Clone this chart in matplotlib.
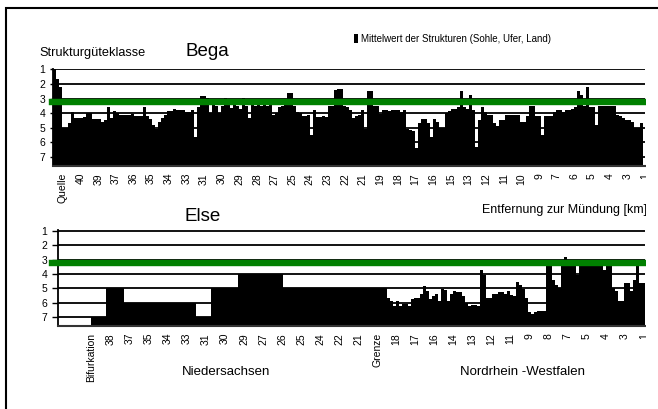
import numpy as np
import matplotlib.pyplot as plt
from matplotlib.patches import Rectangle

plt.rcParams['font.family'] = ['Liberation Sans', 'DejaVu Sans']

# Bega: Mittelwert der Strukturgueteklasse je Abschnitt, von der Quelle zur Muendung
bega_werte = [
    1.0, 1.67, 2.2, 5.0, 5.0, 4.7, 3.9, 4.3, 4.3, 4.3,
    4.25, 4.0, 4.0, 4.4, 4.4, 4.4, 4.6, 4.5, 3.55, 4.3,
    3.85, 4.0, 4.1, 4.1, 4.1, 4.1, 4.05, 4.2, 4.2, 4.2,
    3.55, 4.2, 4.4, 4.8, 5.1, 4.6, 4.3, 4.1, 3.85, 3.85,
    3.7, 3.75, 3.8, 3.75, 3.9, 3.9, 3.75, 5.6, 3.6, 2.8,
    2.8, 2.95, 4.0, 3.4, 3.5, 4.0, 3.5, 2.95, 3.4, 3.65,
    3.4, 3.5, 3.7, 2.95, 3.5, 4.35, 3.4, 3.5, 3.4, 3.5,
    3.4, 3.5, 3.4, 4.1, 4.0, 3.6, 3.5, 3.4, 2.65, 2.65,
    3.5, 3.9, 4.0, 4.2, 4.2, 4.1, 5.5, 3.75, 4.25, 4.25,
    4.2, 4.25,
    3.5, 3.5, 2.4, 2.35, 2.35, 3.5, 3.6, 3.8, 4.3, 4.2,
    4.1, 3.75, 5.1, 2.5, 2.5, 3.5, 3.5, 4.05, 3.8, 3.75,
    3.85, 3.75, 3.8, 3.75, 3.9, 3.75, 5.1, 5.15, 5.2, 6.4,
    4.7, 4.4, 4.4, 4.7, 5.6, 4.4, 4.6, 5.0, 5.0, 4.0,
    3.85, 3.7, 3.7, 3.55, 2.5, 3.6, 3.7, 2.75, 3.8, 6.3,
    4.5, 3.55, 3.9, 4.1, 4.1, 4.7, 4.9,
    4.5, 4.45, 4.15, 4.13, 4.13, 4.13, 4.13, 4.6, 4.6, 4.2,
    3.5, 3.5, 4.2, 4.2, 5.5, 4.2, 4.2, 4.2, 3.9, 3.75,
    3.75, 3.9, 3.8, 3.8, 3.7, 3.6, 2.5, 2.75, 3.5, 2.2,
    3.55, 3.55, 4.8, 3.5, 3.5, 3.5, 3.5, 3.5, 3.5, 4.1,
    4.2, 4.3, 4.5, 4.5, 4.6, 5.0, 5.0, 4.7,
]
bega_ticks = ['Quelle', '40', '39', '37', '36', '35', '34', '33', '31', '30',
              '29', '28', '27', '25', '24', '23', '22', '21', '19', '18',
              '17', '16', '15', '13', '12', '11', '10', '9', '7', '6',
              '5', '4', '3', '1']

# Else: Niedersachsen (ab Bifurkation) und Nordrhein-Westfalen
nan = np.nan
else_niedersachsen = [
    nan, nan, nan, nan, nan, nan, nan, nan, nan, nan, nan,
    7.0, 7.0, 7.0, 7.0, 7.0,
    5.0, 5.0, 5.0, 5.0, 5.0, 5.0,
    6.0, 6.0, 6.0, 6.0, 6.0, 6.0, 6.0, 6.0, 6.0, 6.0, 6.0, 6.0,
    6.0, 6.0, 6.0, 6.0, 6.0, 6.0, 6.0, 6.0, 6.0, 6.0, 6.0, 6.0,
    7.0, 7.0, 7.0, 7.0, 7.0,
    5.0, 5.0, 5.0, 5.0, 5.0, 5.0, 5.0, 5.0, 5.0,
    4.0, 4.0, 4.0, 4.0, 4.0, 4.0, 4.0, 4.0, 4.0, 4.0, 4.0, 4.0, 4.0, 4.0, 4.0,
    5.0, 5.0, 5.0, 5.0, 5.0, 5.0, 5.0, 5.0, 5.0, 5.0, 5.0, 5.0,
    5.0, 5.0, 5.0, 5.0, 5.0, 5.0, 5.0, 5.0, 5.0, 5.0, 5.0, 5.0,
    5.0, 5.0, 5.0, 5.0, 5.0, 5.0, 5.0, 5.0, 5.0, 5.0, 5.0,
]
else_nrw = [
    5.7, 5.9, 6.2, 5.9, 6.2, 6.1, 6.1, 6.25, 5.75, 5.7,
    5.7, 5.4, 4.85, 5.15, 5.75, 5.5, 5.4, 5.85, 5.05, 5.1,
    5.85, 5.4, 5.2, 5.25, 5.25, 5.5, 6.05, 6.2, 6.15, 6.15,
    6.2, 3.7, 4.1, 5.7, 5.7, 5.4, 5.4, 5.25, 5.25, 5.4,
    5.2, 5.45, 5.5, 4.55, 4.8, 5.05, 5.7, 6.65, 6.8, 6.65,
    6.6, 6.6, 6.6, 3.35, 3.35, 4.45, 4.8, 5.0, 3.35, 2.8,
    3.35, 3.35, 3.35, 4.05, 3.35, 3.35, 3.4, 3.35, 3.35, 3.35,
    3.4, 3.35, 3.75, 3.4, 3.4, 5.0, 5.2, 5.9, 5.9, 4.65,
    4.65, 5.15, 4.45, 3.35, 4.65, 4.65,
]
else_ticks = ['Bifurkation', '38', '37', '35', '34', '33', '31', '30', '29', '27',
              '26', '25', '24', '22', '21', 'Grenze', '18', '17', '16', '14',
              '13', '12', '11', '9', '8', '7', '5', '4', '3', '1']

klassen = [1, 2, 3, 4, 5, 6, 7]
zielwert = 3.25

fig = plt.figure(figsize=(6.58, 4.09), dpi=100)
ax1 = fig.add_axes([0.0805, 0.5941, 0.8997, 0.2374])
ax2 = fig.add_axes([0.0881, 0.2029, 0.8921, 0.2337])


def zeichne(ax, werte, ticks, start, step, tick_len, green_start, label=None):
    werte = np.array(werte, dtype=float)
    x = np.arange(len(werte))
    unten = 7.62
    ax.bar(x, unten - werte, bottom=werte, width=1.0, color='black',
           linewidth=0, label=label)
    ax.set_xlim(-0.5, len(werte) - 0.5)
    ax.set_ylim(unten, 0.97)
    ax.set_yticks(klassen)
    ax.set_axisbelow(True)
    ax.yaxis.grid(True, color='black', lw=1.3)
    ax.axhline(zielwert, color='#008000', lw=4.6, xmin=green_start,
               clip_on=False, zorder=3)
    ax.set_xticks(start + step * np.arange(len(ticks)))
    ax.set_xticklabels(ticks, rotation=90)
    ax.tick_params(axis='x', length=0, pad=5, labelsize=7.5)
    ax.tick_params(axis='y', length=tick_len, width=1, pad=3, labelsize=7.5)
    ax.spines['top'].set_visible(False)
    ax.spines['right'].set_visible(False)
    ax.spines['left'].set_linewidth(1.3)
    ax.spines['bottom'].set_color('#333333')
    ax.spines['bottom'].set_linewidth(1.5)


zeichne(ax1, bega_werte, bega_ticks, 2.83, 5.89, 2.5, -0.002,
        label='Mittelwert der Strukturen (Sohle, Ufer, Land)')
zeichne(ax2, else_niedersachsen + else_nrw, else_ticks, 10.73, 6.36, 4.5, -0.0102)

ax1.legend(loc='upper left', bbox_to_anchor=(354 / 658, 1 - 34 / 409),
           bbox_transform=fig.transFigure, frameon=False, fontsize=7,
           handlelength=0.45, handleheight=1.1, handletextpad=0.3,
           borderpad=0, borderaxespad=0)

fig.text(39 / 658, 1 - 53 / 409, 'Strukturgüteklasse', fontsize=9.2, va='center')
fig.text(207 / 658, 1 - 51 / 409, 'Bega', fontsize=13.5, ha='center', va='center')
fig.text(203 / 658, 1 - 217 / 409, 'Else', fontsize=13.5, ha='center', va='center')
fig.text(482 / 658, 1 - 210 / 409, 'Entfernung zur Mündung [km]', fontsize=9, va='center')
fig.text(226 / 658, 1 - 372 / 409, 'Niedersachsen', fontsize=9.5, ha='center', va='center')
fig.text(522 / 658, 1 - 372 / 409, 'Nordrhein -Westfalen', fontsize=9.5, ha='center', va='center')

# rechter Rand abgeschnitten wie im Original
fig.add_artist(Rectangle((645.5 / 658, 0), 0.1, 1 - 11 / 409, transform=fig.transFigure,
                         facecolor='white', edgecolor='none', zorder=10))
# Rahmen
fig.add_artist(Rectangle((6 / 658, -0.05), 1.1, 1.05 - 8 / 409, transform=fig.transFigure,
                         fill=False, edgecolor='black', lw=1.5, zorder=11))

fig.savefig('out.png', dpi=100)
